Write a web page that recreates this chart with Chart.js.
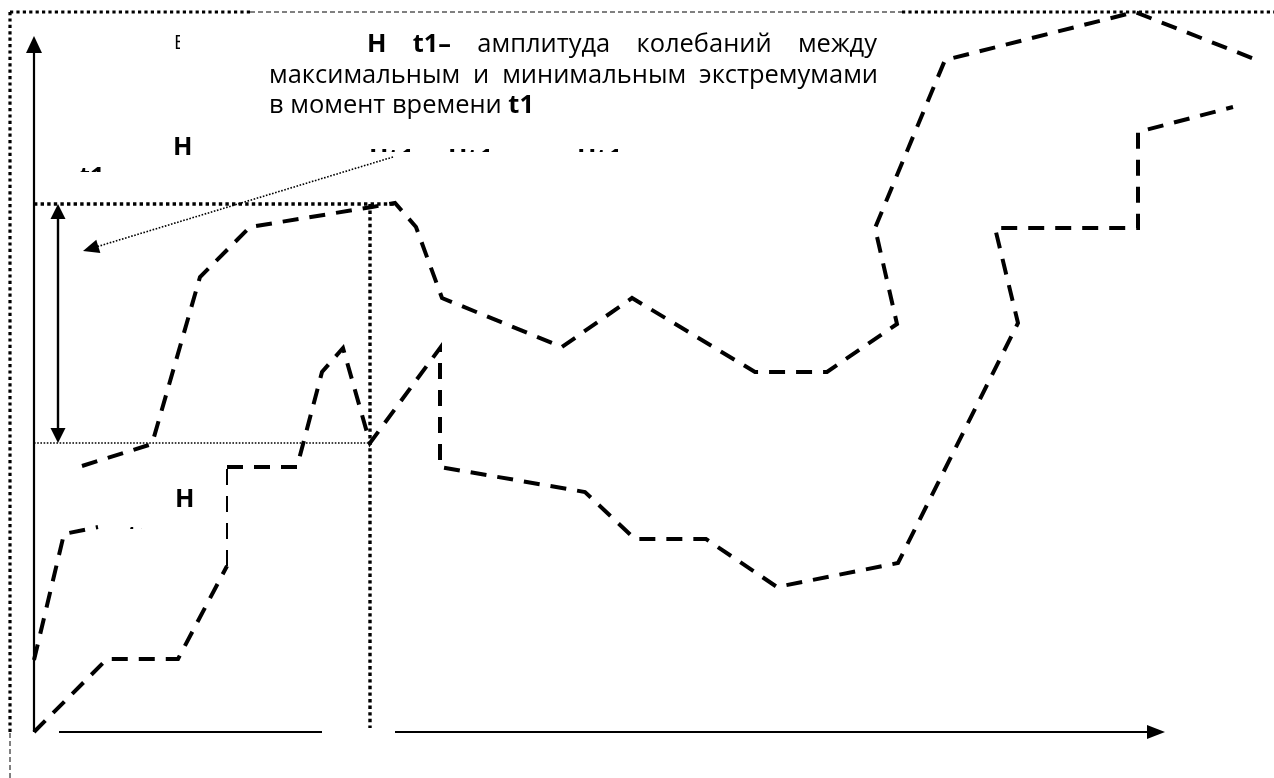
<!DOCTYPE html>
<html><head><meta charset="utf-8">
<script src="https://cdn.jsdelivr.net/npm/chart.js@4/dist/chart.umd.min.js"></script>
<style>html,body{margin:0;padding:0;background:#fff;overflow:hidden}canvas{display:block}</style>
</head><body>
<canvas id="c" width="1274" height="778"></canvas>
<script>
// Diagram values: t = time (x), H = value (y); origin at axes origin
const upperT = [48,118,166,216,338,361,382,408,528,598,721,793,863,841,911,1101,1223];
const upperH = [266,288,455,505,525,529,505,434,385,434,360,360,408,504,672,720,672];
const lowerT = [0,73,144,193,193,263,288,309,336,406,406,551,601,672,743,864,984,961,1104,1104,1199];
const lowerH = [0,73,73,166,265,265,360,384,289,384,265,240,193,193,145,169,409,504,504,600,625];
const leftT = [0,30,64];
const leftH = [72,198,205];
const t1 = 336;          // moment t1
const hMax = 528;        // max extremum level
const hMin = 289;        // min extremum level
const hMaxEndT = 361;    // end of max level line
const annotationLines = [
  [{t:'Н',b:true},{t:'t1–',b:true},{t:'амплитуда'},{t:'колебаний'},{t:'между'}],
  [{t:'максимальным'},{t:'и'},{t:'минимальным'},{t:'экстремумами'}],
  [{t:'в'},{t:'момент'},{t:'времени'},{t:'t1',b:true}]
];

const FONT = '"Open Sans","Noto Sans",sans-serif';
const pts = (T,H)=>T.map((t,i)=>({x:t,y:H[i]}));
const dashed = {showLine:true,pointRadius:0,borderColor:'#000',borderWidth:4,borderDash:[16,11],
  borderCapStyle:'butt',borderJoinStyle:'miter',tension:0,clip:false,fill:false};
const dottedHeavy = {showLine:true,pointRadius:0,borderColor:'#000',borderWidth:3.4,borderDash:[3.4,3.2],
  borderCapStyle:'butt',tension:0,clip:false,fill:false};
const dottedThin = {showLine:true,pointRadius:0,borderColor:'#000',borderWidth:1.6,borderDash:[1.6,1.6],
  borderCapStyle:'butt',tension:0,clip:false,fill:false};

function arrowHead(ctx,x1,y1,x2,y2,len,hw){
  const a=Math.atan2(y2-y1,x2-x1), c=Math.cos(a), s=Math.sin(a);
  ctx.save(); ctx.setLineDash([]); ctx.fillStyle='#000';
  ctx.beginPath(); ctx.moveTo(x2,y2);
  ctx.lineTo(x2-len*c+hw*s, y2-len*s-hw*c);
  ctx.lineTo(x2-len*c-hw*s, y2-len*s+hw*c);
  ctx.closePath(); ctx.fill(); ctx.restore();
}
function seg(ctx,x1,y1,x2,y2,w,dash){
  ctx.save(); ctx.lineWidth=w; ctx.setLineDash(dash||[]); ctx.lineCap='butt';
  ctx.beginPath(); ctx.moveTo(x1,y1); ctx.lineTo(x2,y2); ctx.stroke(); ctx.restore();
}

const diagram = {
  id:'diagram',
  beforeDatasetsDraw(chart){
    const ctx=chart.ctx, X=v=>chart.scales.x.getPixelForValue(v), Y=v=>chart.scales.y.getPixelForValue(v);
    ctx.save(); ctx.strokeStyle='#000';
    const bx=X(-24), by=Y(720);
    seg(ctx,bx,by,X(216),by,3.2,[3.2,3.2]);
    seg(ctx,X(216),by,X(868),by,1,[5,3]);
    seg(ctx,X(868),by,X(1240),by,3.2,[3.2,3.2]);
    seg(ctx,bx,by,bx,Y(-1),3.2,[3.2,3.2]);
    seg(ctx,bx,Y(-1),bx,Y(-46),1,[5,3]);
    ctx.restore();
  },
  afterDatasetsDraw(chart){
    const ctx=chart.ctx, X=v=>chart.scales.x.getPixelForValue(v), Y=v=>chart.scales.y.getPixelForValue(v);
    ctx.save(); ctx.strokeStyle='#000'; ctx.fillStyle='#000';
    // y axis
    seg(ctx,X(0),Y(0),X(0),Y(680),2.2);
    arrowHead(ctx,X(0),Y(0),X(0),Y(696),17,8);
    // x axis (with gaps)
    seg(ctx,X(25),Y(0),X(288),Y(0),2.2);
    seg(ctx,X(361),Y(0),X(1115),Y(0),2.2);
    arrowHead(ctx,X(0),Y(0),X(1131),Y(0),18,7);
    // double arrow amplitude
    seg(ctx,X(24),Y(hMax-14),X(24),Y(hMin+14),2.4);
    arrowHead(ctx,X(24),Y(hMin),X(24),Y(hMax),15,7.5);
    arrowHead(ctx,X(24),Y(hMax),X(24),Y(hMin),15,7.5);
    // pointer from annotation
    seg(ctx,X(359),Y(575),X(62),Y(485),1.6,[1.6,1.6]);
    arrowHead(ctx,X(359),Y(575),X(49),Y(481),16,7);

    // text
    ctx.textBaseline='alphabetic';
    ctx.font='100px '+FONT;
    const size = 100*133/ctx.measureText('амплитуда').width;
    const fontOf=b=>(b?'bold ':'')+size.toFixed(2)+'px '+FONT;
    function line(words,x0,x1,y,justify){
      const w=words.map(o=>{ctx.font=fontOf(o.b);return ctx.measureText(o.t).width;});
      const tot=w.reduce((a,b)=>a+b,0);
      ctx.font=fontOf(false);
      const gap=justify?(x1-x0-tot)/(words.length-1):ctx.measureText(' ').width;
      let x=x0;
      words.forEach((o,i)=>{ctx.font=fontOf(o.b);ctx.fillText(o.t,x,y);x+=w[i]+gap;});
    }
    line(annotationLines[0],367,877,52,true);
    line(annotationLines[1],269,878,83,true);
    line(annotationLines[2],269,0,113,false);
    ctx.font=fontOf(true);
    ctx.fillText('Н',173,155);
    ctx.fillText('Н',175,507);
    // clipped fragments of hidden labels
    function clipped(txt,x,y,cx,cy,cw,ch,bold,sz){
      ctx.save(); ctx.beginPath(); ctx.rect(cx,cy,cw,ch); ctx.clip();
      ctx.font=(bold?'bold ':'')+(sz||size).toFixed(2)+'px '+FONT;
      ctx.fillText(txt,x,y); ctx.restore();
    }
    const capTop = size*0.72;
    clipped('Е',174,49,174,34,6,17,false,size*0.75);
    clipped('Нt1',369,149+capTop,365,146,50,6,true);
    clipped('Нt1',448,149+capTop,444,146,50,6,true);
    clipped('Нt1',577,149+capTop,573,146,50,6,true);
    clipped('t1',79,167+capTop,76,165,30,7,true);
    clipped('t1',127,526+capTop,130,523,12,6,true);
    ctx.restore();
  }
};

new Chart(document.getElementById('c'),{
  type:'scatter',
  data:{datasets:[
    Object.assign({label:'upper',data:pts(upperT,upperH)},dashed),
    Object.assign({label:'lower',data:pts(lowerT,lowerH),
      segment:{borderWidth:c=>c.p0DataIndex===3?2:undefined}},dashed),
    Object.assign({label:'left',data:pts(leftT,leftH)},dashed),
    Object.assign({label:'max',data:[{x:0,y:hMax},{x:hMaxEndT,y:hMax}]},dottedHeavy),
    Object.assign({label:'t1',data:[{x:t1,y:hMax},{x:t1,y:4}]},dottedHeavy),
    Object.assign({label:'min',data:[{x:0,y:hMin},{x:t1,y:hMin}]},dottedThin)
  ]},
  options:{
    responsive:false,devicePixelRatio:1,animation:false,events:[],
    layout:{padding:0},
    plugins:{legend:{display:false},tooltip:{enabled:false},title:{display:false}},
    scales:{
      x:{type:'linear',min:-34,max:1240,display:false},
      y:{type:'linear',min:-46,max:732,display:false}
    }
  },
  plugins:[diagram]
});
</script>
</body></html>
